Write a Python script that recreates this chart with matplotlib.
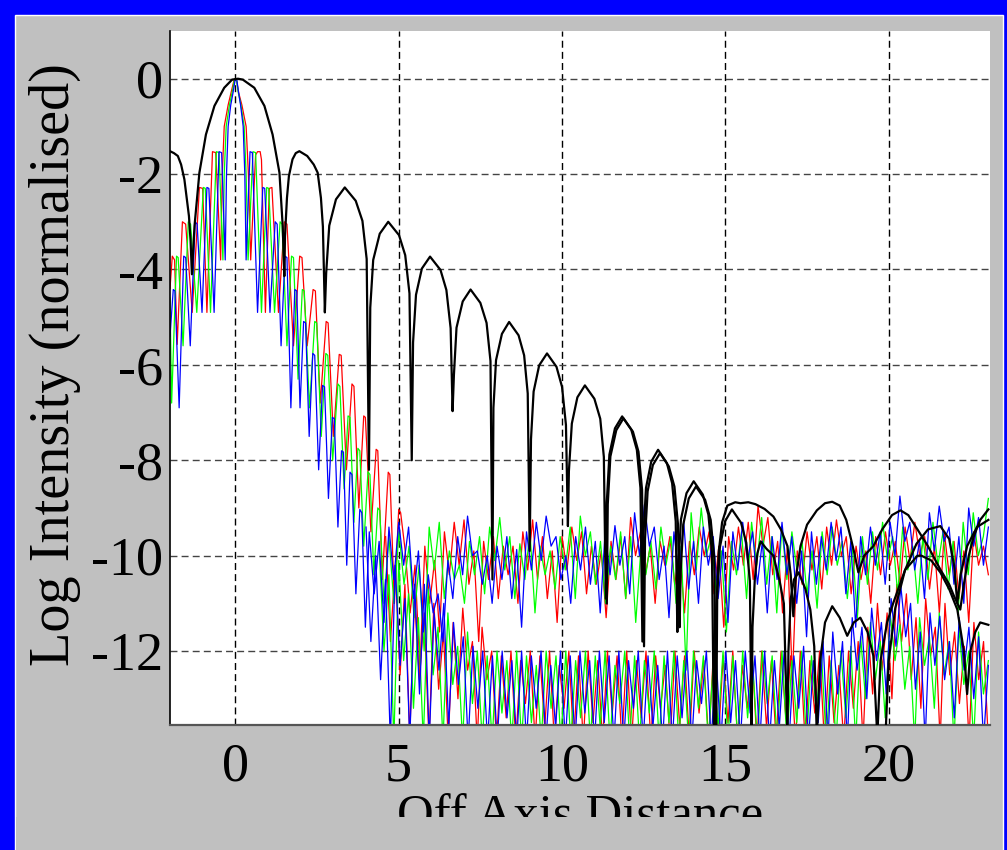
import numpy as np
import matplotlib
matplotlib.use('Agg')
import matplotlib.pyplot as plt
from matplotlib.patches import Rectangle

plt.rcParams['font.family'] = ['Liberation Serif', 'DejaVu Serif']
plt.rcParams['axes.unicode_minus'] = False

# ---- black: broad diffraction pattern (x, log intensity) ----
black_main = [
    (-2.0, -1.52), (-1.88, -1.56), (-1.76, -1.62), (-1.66, -1.8), (-1.56, -2.11), (-1.47, -2.6),
    (-1.42, -2.88), (-1.37, -3.4), (-1.33, -4.1), (-1.29, -3.6), (-1.25, -3.09), (-1.1, -1.97),
    (-0.9, -1.17), (-0.64, -0.57), (-0.34, -0.19), (-0.1, -0.02), (0.08, 0.0), (0.23, -0.02),
    (0.58, -0.19), (0.89, -0.57), (1.14, -1.17), (1.35, -1.97), (1.45, -3.09), (1.5, -4.14),
    (1.52, -3.3), (1.58, -2.5), (1.64, -2.04), (1.75, -1.69), (1.85, -1.56), (1.96, -1.52),
    (2.2, -1.62), (2.4, -1.8), (2.52, -1.97), (2.62, -2.5), (2.68, -3.1), (2.74, -4.9),
    (2.78, -4.08), (2.875, -3.08), (3.08, -2.53), (3.35, -2.28), (3.685, -2.56), (3.89, -2.98), (4.02, -3.78), (4.09, -8.2),
    (4.13, -4.8), (4.22, -3.8), (4.42, -3.25), (4.68, -3.0), (5.01, -3.28), (5.2, -3.7), (5.33, -4.5), (5.4, -8.0),
    (5.44, -5.53), (5.53, -4.53), (5.71, -3.98), (5.96, -3.73), (6.28, -4.01), (6.46, -4.43), (6.59, -5.23), (6.65, -6.97),
    (6.69, -6.22), (6.77, -5.22), (6.96, -4.67), (7.2, -4.42), (7.5, -4.7), (7.69, -5.12), (7.81, -5.92), (7.87, -10.5),
    (7.9, -6.9), (7.98, -5.9), (8.16, -5.35), (8.38, -5.1), (8.67, -5.38), (8.84, -5.8), (8.95, -6.6), (9.01, -9.9),
    (9.05, -7.56), (9.13, -6.56), (9.3, -6.01), (9.54, -5.76), (9.83, -6.04), (10.0, -6.46), (10.12, -7.26), (10.18, -9.38),
    (10.21, -8.23), (10.3, -7.23), (10.47, -6.68), (10.7, -6.43), (10.99, -6.71), (11.17, -7.13), (11.28, -7.93), (11.34, -10.9),
    (11.37, -8.88), (11.45, -7.88), (11.62, -7.33), (11.84, -7.08), (12.12, -7.36), (12.29, -7.78), (12.4, -8.58), (12.46, -11.8),
    (12.49, -9.58), (12.57, -8.58), (12.73, -8.03), (12.94, -7.78), (13.21, -8.06), (13.37, -8.48), (13.48, -9.28), (13.53, -11.6),
    (13.56, -10.24), (13.64, -9.24), (13.81, -8.69), (14.03, -8.44), (14.31, -8.72), (14.48, -9.14), (14.59, -9.94), (14.65, -13.8),
    (14.7, -11.5), (14.8, -9.9), (14.9, -9.3), (15.06, -8.95), (15.3, -8.88), (15.46, -8.9), (15.7, -8.88), (15.92, -8.92),
    (16.2, -9.02), (16.47, -9.18), (16.7, -9.45), (16.9, -9.8), (17.0, -10.4), (17.08, -11.27), (17.15, -10.5), (17.3, -9.8),
    (17.5, -9.35), (17.8, -9.05), (18.05, -8.9), (18.27, -8.87), (18.5, -8.95), (18.7, -9.25), (18.82, -9.58), (18.95, -9.95),
    (19.07, -10.35), (19.25, -10.0), (19.53, -9.8), (19.8, -9.45), (20.1, -9.15), (20.36, -9.05), (20.6, -9.15), (20.88, -9.45),
    (21.2, -9.8), (21.58, -10.29), (21.85, -10.6), (22.0, -10.85), (22.19, -11.13), (22.3, -10.6), (22.45, -10.0), (22.6, -9.6),
    (22.8, -9.25), (23.05, -9.03),
]

black_second = [
    (11.37, -11.0), (11.4, -8.92), (11.48, -7.92), (11.66, -7.37), (11.88, -7.12), (12.17, -7.4), (12.34, -7.82), (12.45, -8.62),
    (12.51, -11.9), (12.54, -9.65), (12.62, -8.65), (12.78, -8.1), (13.0, -7.85), (13.27, -8.13), (13.44, -8.55), (13.55, -9.35),
    (13.6, -11.5), (13.63, -10.35), (13.71, -9.35), (13.88, -8.8), (14.1, -8.55), (14.38, -8.83), (14.55, -9.25), (14.66, -10.05),
    (14.72, -13.8), (14.75, -10.83), (14.83, -9.83), (14.99, -9.28), (15.2, -9.03), (15.48, -9.31), (15.64, -9.73), (15.75, -10.53),
    (15.8, -13.8), (15.83, -11.5), (15.9, -10.5), (15.98, -9.95), (16.08, -9.7), (16.25, -9.85), (16.47, -10.0), (16.65, -10.5),
    (16.79, -11.0), (16.9, -13.8), (16.93, -12.0), (17.0, -10.9), (17.1, -10.5), (17.24, -10.35), (17.45, -10.7), (17.6, -11.13),
    (17.72, -11.9), (17.8, -13.8), (17.9, -12.2), (18.05, -11.4), (18.27, -11.06), (18.5, -11.3), (18.73, -11.68), (18.93, -11.4),
    (19.13, -11.3), (19.35, -11.6), (19.53, -12.1), (19.65, -13.8), (19.75, -12.2), (19.95, -11.4), (20.15, -10.97), (20.5, -10.3),
    (20.88, -10.0), (21.0, -10.0), (21.3, -10.1), (21.58, -10.35), (21.85, -10.7), (22.1, -11.13), (22.3, -12.0), (22.4, -12.9),
    (22.5, -12.0), (22.65, -11.6), (22.8, -11.4), (23.05, -11.45),
]

black_third = [
    (19.9, -13.8), (20.0, -12.2), (20.2, -11.1), (20.5, -10.3), (20.85, -9.75), (21.2, -9.45), (21.58, -9.38),
    (21.85, -9.65), (22.0, -10.2), (22.1, -11.0), (22.2, -10.4), (22.4, -9.8), (22.7, -9.4), (23.05, -9.25),
]

# ---- coloured: narrow patterns (central lobes) ----
red_core = [
    (-2.0, -4.4), (-1.93, -3.72), (-1.86, -3.8), (-1.78, -5.57), (-1.62, -3.0), (-1.52, -3.05), (-1.32, -4.9),
    (-1.1, -2.28), (-1.0, -2.3), (-0.87, -4.9), (-0.7, -1.53), (-0.6, -1.55), (-0.45, -3.8), (-0.4, -2.0),
    (-0.34, -1.0), (-0.22, -0.55), (-0.13, -0.29), (-0.03, 0.0), (0.03, 0.0), (0.1, -0.29), (0.2, -0.55),
    (0.33, -1.0), (0.4, -2.0), (0.47, -3.8), (0.62, -1.6), (0.68, -1.53), (0.76, -1.53), (0.8, -1.7),
    (0.92, -4.9), (1.04, -2.3), (1.12, -2.28), (1.32, -4.9), (1.5, -3.0), (1.58, -3.05), (1.78, -5.6),
    (1.97, -3.72), (2.04, -3.75), (2.2, -5.6), (2.38, -4.42), (2.45, -4.45), (2.6, -6.8), (2.78, -5.09),
    (2.84, -5.12), (3.0, -7.5), (3.18, -5.78), (3.24, -5.8), (3.4, -8.2), (3.57, -6.4), (3.63, -6.45),
    (3.78, -9.0), (3.93, -7.07), (3.98, -7.1), (4.15, -9.5), (4.31, -7.77), (4.36, -7.8), (4.5, -10.5),
    (4.68, -8.25), (4.73, -8.3), (4.87, -11.0), (5.0, -9.03), (5.06, -9.1),
]
green_core = [
    (-2.0, -4.6), (-1.95, -6.8), (-1.8, -3.72), (-1.75, -3.75), (-1.6, -5.6), (-1.44, -3.0), (-1.37, -3.05),
    (-1.18, -4.9), (-0.98, -2.28), (-0.92, -2.3), (-0.76, -4.9), (-0.58, -1.53), (-0.5, -1.55), (-0.38, -3.8),
    (-0.34, -2.0), (-0.28, -1.0), (-0.18, -0.55), (-0.1, -0.29), (-0.02, 0.0), (0.03, 0.0), (0.09, -0.29),
    (0.17, -0.55), (0.27, -1.0), (0.33, -2.0), (0.39, -3.8), (0.54, -1.53), (0.62, -1.55), (0.8, -4.9),
    (0.96, -2.28), (1.02, -2.3), (1.2, -4.9), (1.37, -3.0), (1.43, -3.05), (1.58, -5.6), (1.72, -3.72),
    (1.78, -3.75), (1.92, -6.3), (2.05, -4.42), (2.11, -4.45), (2.27, -6.9), (2.43, -5.09), (2.49, -5.12),
    (2.63, -7.5), (2.77, -5.76), (2.83, -5.8), (2.98, -8.0), (3.14, -6.4), (3.2, -6.45), (3.33, -8.6),
    (3.45, -7.07), (3.51, -7.1), (3.63, -9.3), (3.75, -7.75), (3.81, -7.8), (3.93, -9.8), (4.06, -8.24),
    (4.12, -8.3), (4.24, -10.4), (4.36, -9.0), (4.42, -9.05), (4.55, -11.0),
]
blue_core = [
    (-2.0, -5.4), (-1.9, -4.42), (-1.85, -4.45), (-1.72, -6.9), (-1.58, -3.72), (-1.52, -3.75), (-1.38, -5.6),
    (-1.23, -3.0), (-1.17, -3.05), (-1.02, -4.9), (-0.87, -2.28), (-0.81, -2.3), (-0.65, -4.9), (-0.5, -1.53),
    (-0.42, -1.55), (-0.31, -3.8), (-0.27, -2.0), (-0.22, -1.0), (-0.14, -0.55), (-0.07, -0.29), (0.0, 0.0),
    (0.04, 0.0), (0.1, -0.29), (0.16, -0.55), (0.24, -1.0), (0.29, -2.0), (0.33, -3.8), (0.45, -1.53),
    (0.52, -1.55), (0.68, -4.9), (0.84, -2.28), (0.9, -2.3), (1.06, -4.9), (1.22, -3.0), (1.28, -3.05),
    (1.4, -5.6), (1.52, -3.72), (1.58, -3.75), (1.7, -6.9), (1.82, -4.42), (1.88, -4.45), (1.98, -6.9),
    (2.09, -5.09), (2.15, -5.12), (2.26, -7.5), (2.37, -5.76), (2.43, -5.8), (2.55, -8.2), (2.67, -6.43),
    (2.73, -6.46), (2.85, -8.8), (2.97, -7.1), (3.03, -7.13), (3.14, -9.4), (3.25, -7.8), (3.31, -7.83),
    (3.41, -10.2), (3.51, -8.25), (3.57, -8.3), (3.69, -10.8), (3.81, -9.03), (3.87, -9.1), (3.98, -11.5),
]

# ---- coloured: upper noise floor (values read along x, start -> 23.05) ----
red_upper_start = 5.2
red_upper = [-9.9, -11.2, -10.2, -12.4, -9.8, -11.0, -10.1, -11.6, -9.5, -10.4, -9.3, -10.2, -9.25, -10.6,
             -9.9, -11.8, -9.7, -10.5, -9.6, -10.9, -9.8, -10.4, -9.8, -11.0, -9.5, -10.3, -9.25, -10.5,
             -9.6, -10.9, -9.9, -11.4, -9.6, -10.3, -9.4, -10.1, -9.5, -10.8, -9.8, -10.6, -9.9, -11.3,
             -9.7, -10.5, -9.6, -10.9, -9.2, -10.0, -9.5, -10.4, -9.8, -11.0, -9.7, -10.2, -9.6, -10.6,
             -9.9, -11.2, -9.7, -10.4, -9.4, -10.0, -9.5, -10.8, -9.8, -11.5, -9.6, -10.3, -9.4, -10.2,
             -9.3, -10.5, -8.95, -9.8, -9.2, -10.4, -9.7, -11.2, -9.8, -12.6, -9.9, -10.6, -9.5, -10.3,
             -9.6, -10.7, -9.4, -10.2, -9.25, -10.0, -9.6, -10.8, -9.8, -10.5, -9.9, -11.0, -9.6, -10.4,
             -9.5, -10.2, -9.7, -10.6, -9.4, -10.1, -9.3, -10.0, -9.6, -10.7, -9.8, -11.2, -9.5, -10.4,
             -9.7, -10.9, -9.9, -11.4, -9.5, -10.2, -9.8, -10.4]
green_upper_start = 4.7
green_upper = [-9.6, -11.0, -9.5, -10.6, -9.8, -11.3, -10.2, -12.0, -9.4, -10.3, -9.3, -10.9, -9.9, -10.5,
               -10.2, -11.0, -9.7, -10.4, -9.6, -10.8, -9.4, -10.1, -9.2, -10.3, -9.6, -10.9, -9.75, -10.5,
               -9.5, -11.2, -9.8, -10.4, -9.9, -10.7, -9.6, -10.3, -9.4, -10.9, -9.17, -10.0, -9.5, -10.6,
               -9.7, -11.0, -9.8, -10.5, -9.5, -10.9, -9.6, -11.4, -9.9, -10.4, -9.7, -10.7, -9.4, -10.2,
               -9.6, -11.0, -9.8, -12.4, -9.1, -10.3, -9.0, -10.0, -9.6, -10.8, -9.9, -11.6, -9.7, -10.4,
               -9.5, -10.9, -9.3, -10.2, -9.2, -10.6, -9.6, -11.2, -9.4, -10.5, -9.5, -10.3, -9.7, -10.8,
               -9.9, -11.1, -9.5, -10.4, -9.4, -10.2, -9.7, -10.9, -9.8, -11.3, -9.6, -10.6, -9.5, -10.3,
               -9.3, -10.1, -9.6, -10.8, -9.4, -10.3, -9.8, -11.0, -9.6, -10.5, -9.3, -10.2, -9.5, -10.7,
               -9.7, -11.2, -9.3, -10.4, -9.1, -10.0, -9.6, -8.8]
blue_upper_start = 4.1
blue_upper = [-9.5, -10.8, -9.7, -11.4, -9.4, -10.5, -9.3, -10.2, -9.4, -10.9, -9.9, -11.6, -10.4, -11.2,
              -10.8, -11.8, -10.1, -10.9, -9.6, -10.4, -9.17, -10.0, -9.9, -10.6, -10.0, -11.0, -9.8, -10.5,
              -9.6, -10.9, -9.87, -11.5, -9.5, -10.3, -9.3, -10.1, -9.17, -9.8, -9.6, -10.5, -10.0, -11.0,
              -9.6, -10.3, -9.4, -10.6, -9.7, -11.2, -9.5, -10.4, -9.37, -10.2, -9.6, -10.8, -9.1, -10.0,
              -8.93, -9.8, -9.4, -10.5, -9.8, -11.3, -9.5, -10.4, -9.3, -10.7, -9.7, -11.0, -9.4, -10.2,
              -9.6, -10.9, -9.8, -11.4, -9.5, -10.3, -9.3, -10.1, -9.5, -10.6, -9.7, -11.2, -9.6, -10.5,
              -9.3, -10.4, -9.6, -11.0, -9.9, -11.7, -9.5, -10.6, -9.6, -10.3, -9.3, -10.1, -9.4, -10.8,
              -9.7, -11.5, -9.6, -10.4, -9.4, -10.2, -9.5, -10.6, -9.3, -10.0, -8.75, -9.7, -9.3, -10.3,
              -9.7, -10.9, -9.1, -9.9, -8.96, -9.7, -9.4, -10.6, -9.6, -11.0, -9.0, -9.8, -9.2, -10.2, -9.4]

# ---- coloured: lower noise floor ----
red_lower_start = 4.6
red_lower = [-9.6, -11.8, -10.2, -12.5, -10.6, -13.8, -10.9, -12.6, -11.2, -13.9, -11.0, -12.8, -11.6, -13.9,
             -11.4, -13.0, -11.1, -12.4, -11.8, -13.9, -11.5, -12.6, -12.0, -13.9, -12.1, -13.4, -12.0, -13.9,
             -12.2, -13.1, -12.0, -13.9, -12.1, -13.6, -12.0, -13.9, -12.3, -13.2, -12.0, -13.9, -12.1, -13.9,
             -12.0, -13.5, -12.2, -13.9, -12.0, -13.3, -12.1, -13.9, -12.0, -13.9, -12.2, -13.4, -12.0, -13.9,
             -12.1, -13.2, -12.3, -13.9, -12.0, -13.6, -12.1, -13.9, -12.0, -13.3, -12.2, -13.9, -12.0, -13.9,
             -12.1, -13.5, -12.0, -13.9, -12.3, -13.2, -12.1, -13.9, -12.0, -13.6, -12.2, -13.9, -12.0, -13.4,
             -12.1, -13.9, -12.0, -13.9, -12.2, -13.3, -12.0, -13.9, -12.1, -13.5, -12.3, -13.9, -12.0, -13.2,
             -11.8, -13.9, -11.5, -12.9, -11.0, -12.4, -11.2, -13.0, -10.6, -11.8, -10.8, -12.6, -11.3, -13.2,
             -10.9, -12.1, -11.5, -13.9, -11.0, -12.5, -11.6, -13.1, -11.9, -13.9, -11.4, -12.6, -11.8, -13.9]
green_lower_start = 4.4
green_lower = [-9.8, -12.0, -10.4, -13.9, -10.1, -12.2, -10.8, -13.2, -11.3, -13.9, -10.7, -12.5, -11.5, -13.9,
               -11.2, -12.7, -11.9, -13.9, -11.6, -13.1, -12.0, -13.9, -12.1, -13.9, -12.0, -13.3, -12.2, -13.9,
               -12.0, -13.9, -12.1, -13.5, -12.3, -13.9, -12.0, -13.2, -12.1, -13.9, -12.0, -13.9, -12.2, -13.4,
               -12.0, -13.9, -12.1, -13.6, -12.0, -13.9, -12.3, -13.1, -12.0, -13.9, -12.1, -13.9, -12.2, -13.3,
               -12.0, -13.9, -12.1, -13.5, -12.0, -13.9, -12.2, -13.9, -12.0, -13.2, -12.1, -13.9, -12.3, -13.6,
               -12.0, -13.9, -12.1, -13.9, -12.0, -13.4, -12.2, -13.9, -12.0, -13.1, -12.1, -13.9, -12.0, -13.9,
               -12.2, -13.5, -12.0, -13.9, -12.1, -13.3, -12.0, -13.9, -12.2, -13.9, -12.0, -13.4, -11.9, -13.9,
               -11.7, -13.0, -11.4, -12.6, -11.8, -13.4, -11.2, -12.2, -11.45, -12.8, -11.9, -13.9, -11.3, -12.3,
               -11.7, -13.2, -11.2, -12.5, -11.8, -13.9, -11.5, -12.7, -12.0, -13.9, -11.6, -12.9, -12.2]
blue_lower_start = 4.0
blue_lower = [-9.4, -11.8, -10.0, -12.6, -10.5, -13.9, -10.2, -12.3, -10.9, -13.9, -10.6, -12.9, -10.6, -13.9,
              -11.2, -12.4, -11.0, -13.6, -11.4, -12.7, -11.7, -13.9, -11.9, -13.2, -12.0, -13.9, -12.1, -13.9,
              -12.0, -13.4, -12.2, -13.9, -12.0, -13.9, -12.1, -13.2, -12.0, -13.9, -12.3, -13.6, -12.0, -13.9,
              -12.1, -13.9, -12.0, -13.3, -12.2, -13.9, -12.0, -13.5, -12.1, -13.9, -12.0, -13.9, -12.2, -13.2,
              -12.0, -13.9, -12.1, -13.6, -12.3, -13.9, -12.0, -13.9, -12.1, -13.4, -12.0, -13.9, -12.2, -13.1,
              -12.0, -13.9, -12.1, -13.9, -12.0, -13.5, -12.2, -13.9, -12.0, -13.3, -12.1, -13.9, -12.0, -13.9,
              -12.2, -13.6, -12.0, -13.9, -12.1, -13.2, -11.9, -13.9, -12.2, -13.5, -11.8, -13.9, -11.6, -12.9,
              -11.8, -13.9, -11.3, -12.4, -11.5, -13.0, -11.1, -12.2, -11.4, -12.9, -10.9, -11.9, -10.64, -11.7,
              -11.0, -12.8, -11.6, -13.9, -11.2, -12.3, -11.27, -12.6, -11.8, -13.4, -11.3, -12.4, -11.5, -13.0,
              -11.7, -13.9, -12.3]

x_end = 23.05
x_ticks = [0, 5, 10, 15, 20]
y_ticks = [0, -2, -4, -6, -8, -10, -12]


def pairs(points):
    arr = np.array(points)
    return arr[:, 0], arr[:, 1]


def floor_line(start, values):
    return np.linspace(start, x_end, len(values)), np.array(values)


fig = plt.figure(figsize=(10.07, 8.5), dpi=100)
fig.patch.set_facecolor('#0000ff')
fig.add_artist(Rectangle((15 / 1007, -0.01), 988 / 1007, 844 / 850, transform=fig.transFigure,
                         facecolor='#c0c0c0', edgecolor='white', linewidth=1, zorder=-5))

ax = fig.add_axes([170 / 1007, 125 / 850, 820 / 1007, 694 / 850])
ax.set_facecolor('white')

colours = [('#ff0000', red_core, red_upper_start, red_upper, red_lower_start, red_lower),
           ('#00ff00', green_core, green_upper_start, green_upper, green_lower_start, green_lower),
           ('#0000ff', blue_core, blue_upper_start, blue_upper, blue_lower_start, blue_lower)]

for col, core, us, up, ls, low in colours:
    cx, cy = pairs(core)
    ux, uy = floor_line(us, up)
    ax.plot(np.concatenate([cx, ux]), np.concatenate([cy, uy]), color=col, lw=0.9, zorder=2)
    lx, ly = floor_line(ls, low)
    ax.plot(lx, ly, color=col, lw=0.9, zorder=2)

for pts in (black_main, black_second, black_third):
    bx, by = pairs(pts)
    ax.plot(bx, by, color='black', lw=1.6, zorder=3)

ax.set_xlim(-2.0, 23.1)
ax.set_ylim(-13.55, 1.0)
ax.set_xticks(x_ticks)
ax.set_yticks(y_ticks)
ax.tick_params(length=0, labelsize=39)
ax.tick_params(axis='x', pad=12)
ax.tick_params(axis='y', pad=5)

ax.set_axisbelow(True)
ax.xaxis.grid(True, color='black', linestyle=(0, (5, 3)), linewidth=1.0)
ax.yaxis.grid(True, color='#444444', linestyle=(0, (5, 3)), linewidth=1.0)

for side in ('top', 'right'):
    ax.spines[side].set_visible(False)
ax.spines['left'].set_color('black')
ax.spines['left'].set_linewidth(1.2)
ax.spines['bottom'].set_color('#555555')
ax.spines['bottom'].set_linewidth(1.6)

ax.set_ylabel('Log Intensity (normalised)', fontsize=40.5, va='center')
ax.yaxis.set_label_coords(-0.14, 0.52)
ax.set_xlabel('Off Axis Distance', fontsize=36.5, va='top')
ax.xaxis.set_label_coords(0.5, -0.1)

# bottom of the canvas cuts the axis title
fig.add_artist(Rectangle((16 / 1007, -0.01), 985 / 1007, (33 / 850) + 0.01, transform=fig.transFigure,
                         facecolor='#c0c0c0', edgecolor='none', zorder=10))

fig.savefig('out.png', dpi=100, facecolor=fig.get_facecolor())
